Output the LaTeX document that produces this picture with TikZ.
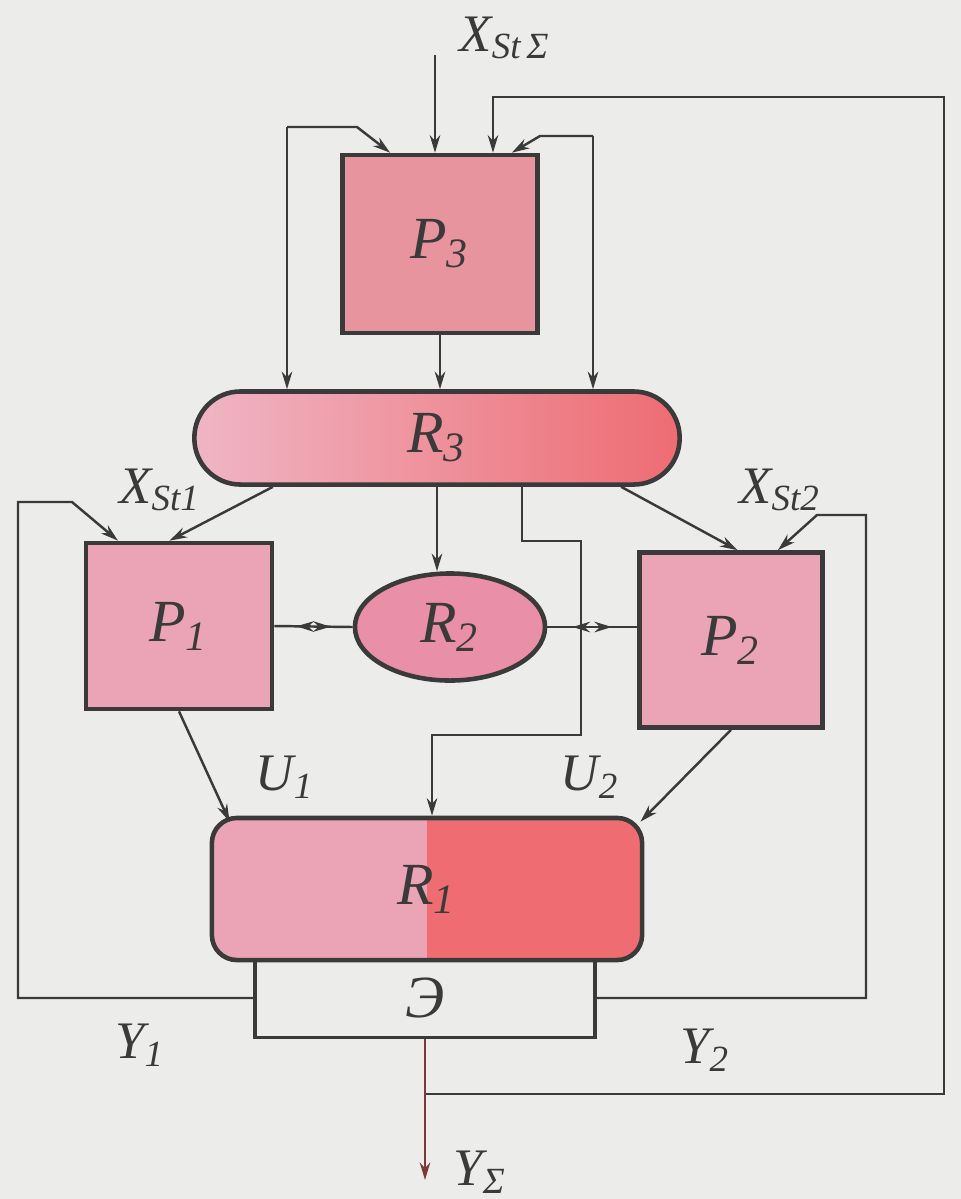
\documentclass[tikz,border=0pt]{standalone}
\usepackage{fontspec}
\setmainfont{Liberation Serif}
\usetikzlibrary{arrows.meta,shapes.geometric,calc,decorations.markings}

\definecolor{paper}{HTML}{ECECEA}
\definecolor{pinkbox}{HTML}{EBA3B6}
\definecolor{redbox}{HTML}{EE6C72}
\definecolor{p3col}{HTML}{E8949E}
\definecolor{r2col}{HTML}{E98FA8}
\definecolor{ink}{HTML}{3A3A3A}
\definecolor{outred}{HTML}{7A3A3A}

\tikzset{
  sig/.style={draw=ink, line width=0.7pt, -{Stealth[length=5pt,width=3pt]}},
  wire/.style={draw=ink, line width=0.7pt},
  block/.style={draw=ink, line width=1.3pt, fill=pinkbox, inner sep=0pt,
    font=\fontsize{17}{17}\selectfont\itshape, text=ink},
  lbl/.style={font=\fontsize{15}{15}\selectfont\itshape, text=ink},
  both/.style={wire, postaction=decorate, decoration={markings,
    mark=at position 0.28 with {\arrowreversed{Stealth[length=5pt,width=3pt]}},
    mark=at position 0.72 with {\arrow{Stealth[length=5pt,width=3pt]}}}},
}

\begin{document}
\begin{tikzpicture}[x=0.01cm,y=-0.01cm]
\fill[paper] (0,0) rectangle (961,1199);
\useasboundingbox (0,0) rectangle (961,1199);

% blocks
\node[block, fill=p3col, minimum width=1.95cm, minimum height=1.78cm] (P3) at (440,244) {P\textsubscript{3}};
\node[block, rounded corners=0.46cm, left color=pinkbox!80!white, right color=redbox,
  minimum width=4.85cm, minimum height=0.93cm] (R3) at (437,438) {R\textsubscript{3}};
\node[block, minimum width=1.86cm, minimum height=1.66cm] (P1) at (179,626) {P\textsubscript{1}};
\node[block, ellipse, fill=r2col, minimum width=1.9cm, minimum height=1.07cm] (R2) at (450,627) {R\textsubscript{2}};
\node[block, minimum width=1.83cm, minimum height=1.75cm] (P2) at (731,640) {P\textsubscript{2}};
\node[draw=ink, line width=1pt, fill=paper, minimum width=3.4cm, minimum height=0.79cm,
  font=\fontsize{17}{17}\selectfont\itshape, text=ink] (E) at (425,998) {Э};
\node[block, rounded corners=0.25cm, minimum width=4.3cm, minimum height=1.42cm,
  path picture={\fill[redbox, sharp corners] (path picture bounding box.north) rectangle (path picture bounding box.south east);}]
  (R1) at (427,889) {R\textsubscript{1}};

% input and outer feedback to P3
\coordinate (inS) at (435,55);
\draw[sig] (inS) -- (inS |- P3.north);
\coordinate (fbA) at (493,97);
\coordinate (fbB) at (944,97);
\coordinate (fbC) at (944,1094);
\coordinate (fbD) at (E.south |- fbC);
\draw[sig] (fbD) -- (fbC) -- (fbB) -- (fbA) -- (fbA |- P3.north);

% side loops round P3
\coordinate (lA) at (287,127);
\coordinate (rA) at (593,136);
\draw[sig] (lA) -- (lA |- R3.north);
\draw[sig] (lA) -- (357,127) -- ($(P3.north west)!0.25!(P3.north east)$);
\draw[sig] (rA) -- (rA |- R3.north);
\draw[sig] (rA) -- (540,136) -- ($(P3.north west)!0.86!(P3.north east)$);
\draw[sig] (P3.south) -- (P3.south |- R3.north);

% R3 to the middle row
\draw[sig] ($(R3.south west)!0.165!(R3.south east)$) -- ($(P1.north west)!0.45!(P1.north east)$);
\draw[sig] (R3.south) -- (R3.south |- R2.north);
\draw[sig] ($(R3.south west)!0.876!(R3.south east)$) -- ($(P2.north west)!0.535!(P2.north east)$);
\coordinate (mA) at ($(R3.south west)!0.674!(R3.south east)$);
\draw[sig] (mA) |- (581,541) -- (581,735) -| ([xshift=0.05cm]R1.north);

% feedback Y1, Y2
\draw[sig] (E.west) -| (18,502) -- (72,502) -- ($(P1.north west)!0.18!(P1.north east)$);
\draw[sig] (E.east) -| (866,515) -- (817,515) -- ($(P2.north west)!0.75!(P2.north east)$);

% P1, P2 to R1
\draw[sig] (P1.south) -- ($(R1.north west)+(20,6)$);
\draw[sig] (P2.south) -- ($(R1.north east)+(-4,6)$);

% links with R2
\draw[both] (P1.east) -- (R2.west);
\draw[both] (R2.east) -- (R2.east -| P2.west);

% output
\coordinate (yS) at (E.south |- 0,1180);
\draw[sig, draw=outred] (E.south) -- (yS);

% labels
\node[lbl] (xS) at (505,38) {X\textsubscript{St\,Σ}};
\node[lbl] (x1) at (160,490) {X\textsubscript{St1}};
\node[lbl] (x2) at (780,490) {X\textsubscript{St2}};
\node[lbl] (u1) at (285,777) {U\textsubscript{1}};
\node[lbl] (u2) at (590,777) {U\textsubscript{2}};
\node[lbl] (y1) at (140,1045) {Y\textsubscript{1}};
\node[lbl] (y2) at (705,1050) {Y\textsubscript{2}};
\node[lbl] (yo) at (480,1172) {Y\textsubscript{Σ}};
\end{tikzpicture}
\end{document}
